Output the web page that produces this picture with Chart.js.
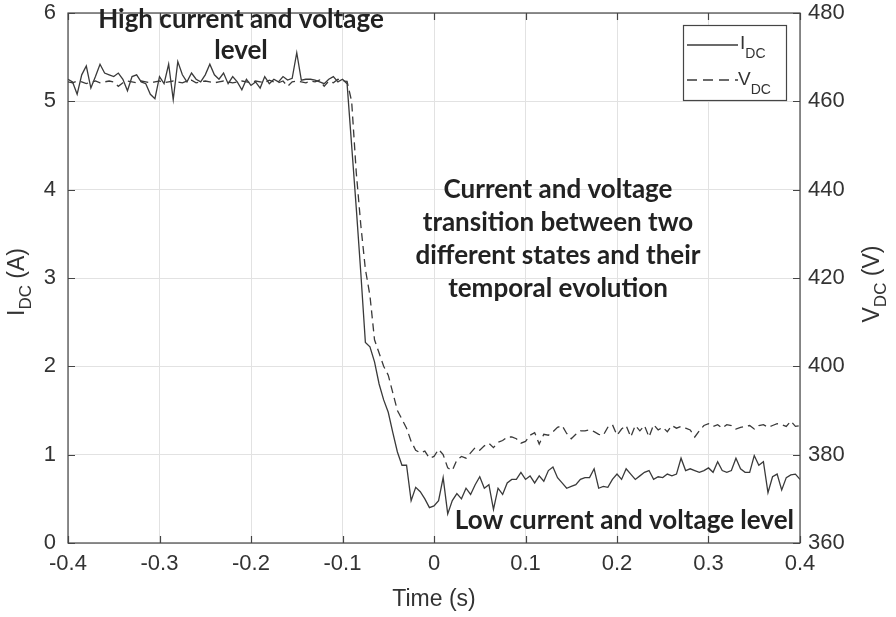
<!DOCTYPE html>
<html>
<head>
<meta charset="utf-8">
<script src="https://cdn.jsdelivr.net/npm/chart.js@4/dist/chart.umd.min.js"></script>
<style>
  html, body { margin: 0; padding: 0; background: #fff; }
  #wrap { width: 896px; height: 617px; position: relative; }
</style>
</head>
<body>
<div id="wrap"><canvas id="c"></canvas></div>
<script>
// sampling: 5 ms steps from -0.4 s to 0.4 s
const tStart = -0.4;
const tStep = 0.005;

// DC current (A)
const currentDC = [
  5.25, 5.22, 5.08, 5.30, 5.40, 5.15, 5.28, 5.42, 5.32, 5.30,
  5.28, 5.32, 5.25, 5.12, 5.28, 5.30, 5.22, 5.20, 5.08, 5.03,
  5.28, 5.20, 5.42, 5.02, 5.45, 5.30, 5.22, 5.32, 5.25, 5.22,
  5.30, 5.42, 5.30, 5.25, 5.32, 5.20, 5.28, 5.22, 5.13, 5.25,
  5.18, 5.22, 5.15, 5.28, 5.20, 5.25, 5.22, 5.28, 5.24, 5.26,
  5.55, 5.24, 5.25, 5.25, 5.24, 5.22, 5.20, 5.25, 5.28, 5.22,
  5.25, 5.20, 4.50, 3.80, 3.06, 2.27, 2.22, 2.05, 1.80, 1.62,
  1.48, 1.25, 1.03, 0.88, 0.88, 0.48, 0.63, 0.58, 0.50, 0.40,
  0.42, 0.48, 0.74, 0.33, 0.48, 0.56, 0.50, 0.62, 0.55, 0.66,
  0.75, 0.62, 0.66, 0.38, 0.62, 0.55, 0.68, 0.72, 0.72, 0.80,
  0.72, 0.76, 0.68, 0.76, 0.70, 0.82, 0.86, 0.74, 0.68, 0.62,
  0.64, 0.66, 0.72, 0.74, 0.74, 0.84, 0.62, 0.64, 0.63, 0.72,
  0.78, 0.72, 0.84, 0.78, 0.72, 0.76, 0.80, 0.82, 0.72, 0.75,
  0.74, 0.78, 0.76, 0.78, 0.96, 0.82, 0.84, 0.82, 0.80, 0.82,
  0.85, 0.80, 0.92, 0.82, 0.80, 0.82, 0.96, 0.84, 0.80, 0.80,
  0.99, 0.88, 0.92, 0.57, 0.75, 0.78, 0.60, 0.74, 0.77, 0.78,
  0.72
];

// DC voltage (V)
const voltageDC = [
  464.4, 464.2, 464.6, 464.4, 464.0, 464.4, 464.6, 464.2, 464.4, 464.6,
  464.4, 463.4, 464.2, 464.6, 464.4, 464.2, 464.6, 464.4, 464.2, 464.4,
  464.6, 464.2, 464.4, 464.6, 464.4, 464.2, 464.6, 464.8, 464.2, 464.4,
  464.6, 464.4, 464.2, 464.4, 464.6, 464.4, 464.2, 464.4, 464.6, 464.4,
  464.2, 464.6, 464.4, 464.2, 464.8, 464.4, 464.2, 464.6, 463.4, 464.4,
  464.6, 464.4, 464.2, 464.6, 464.4, 464.8, 463.4, 464.6, 464.2, 465.0,
  464.6, 464.5, 460.0, 444.0, 432.0, 422.0, 416.0, 406.0, 403.0, 400.0,
  398.0, 394.0, 390.0, 388.0, 386.0, 383.0, 381.0, 380.4, 380.8, 379.2,
  379.6, 381.2, 380.0, 377.0, 376.4, 378.8, 379.6, 379.2, 380.4, 381.6,
  381.0, 382.0, 382.6, 381.6, 382.8, 383.2, 384.0, 384.0, 383.6, 382.6,
  383.0, 384.4, 385.0, 382.4, 384.6, 384.4, 385.2, 386.2, 386.6, 384.8,
  383.6, 384.6, 385.4, 385.4, 385.6, 385.2, 384.6, 384.4, 386.2, 386.8,
  384.4, 385.8, 386.6, 384.0, 386.6, 385.4, 386.6, 384.0, 386.8, 385.6,
  386.2, 385.2, 386.6, 386.0, 386.4, 386.0, 385.6, 384.0, 385.4, 386.6,
  387.0, 386.4, 386.8, 386.0, 386.8, 386.6, 385.8, 386.2, 386.4, 386.6,
  385.8, 386.6, 386.8, 386.2, 386.6, 387.0, 386.8, 386.4, 387.6, 386.4,
  386.6
];

const timeTicks = [-0.4, -0.3, -0.2, -0.1, 0, 0.1, 0.2, 0.3, 0.4];
const currentTicks = [0, 1, 2, 3, 4, 5, 6];
const voltageTicks = [360, 380, 400, 420, 440, 460, 480];

const noteHigh = ['High current and voltage', 'level'];
const noteMid = ['Current and voltage', 'transition between two', 'different states and their', 'temporal evolution'];
const noteLow = ['Low current and voltage level'];

const time = currentDC.map((_, i) => Math.round((tStart + i * tStep) * 1000) / 1000);
const toPoints = (vals) => vals.map((v, i) => ({ x: time[i], y: v }));

const INK = '#3a3a3a';
const AXIS = '#454545';
const TICKFONT = { family: 'Liberation Sans', size: 22 };

// width of a label made of normal + subscript pieces
function partsWidth(ctx, parts, big, small) {
  let w = 0;
  parts.forEach(p => {
    ctx.font = (p.sub ? small : big) + 'px "Liberation Sans"';
    w += ctx.measureText(p.t).width;
  });
  return w;
}
function drawParts(ctx, parts, x, y, big, small, drop) {
  let cx = x;
  parts.forEach(p => {
    ctx.font = (p.sub ? small : big) + 'px "Liberation Sans"';
    ctx.fillText(p.t, cx, p.sub ? y + drop : y);
    cx += ctx.measureText(p.t).width;
  });
}

// keep the y axes from pushing the plot down
function fixY(width) {
  return (s) => {
    s.width = width;
    s.paddingTop = 0;
    s.paddingBottom = 0;
  };
}

const decor = {
  id: 'decor',
  afterDatasetsDraw(chart) {
    const ctx = chart.ctx;
    const a = chart.chartArea;
    const sx = chart.scales.x, sy = chart.scales.y, sy2 = chart.scales.y2;
    ctx.save();

    // box + inward ticks
    ctx.strokeStyle = AXIS;
    ctx.lineWidth = 1.2;
    ctx.strokeRect(a.left, a.top, a.right - a.left, a.bottom - a.top);
    ctx.beginPath();
    const tl = 7;
    timeTicks.forEach(t => {
      const px = Math.round(sx.getPixelForValue(t)) + 0.5;
      ctx.moveTo(px, a.bottom); ctx.lineTo(px, a.bottom - tl);
      ctx.moveTo(px, a.top); ctx.lineTo(px, a.top + tl);
    });
    currentTicks.forEach(v => {
      const py = Math.round(sy.getPixelForValue(v)) + 0.5;
      ctx.moveTo(a.left, py); ctx.lineTo(a.left + tl, py);
    });
    voltageTicks.forEach(v => {
      const py = Math.round(sy2.getPixelForValue(v)) + 0.5;
      ctx.moveTo(a.right, py); ctx.lineTo(a.right - tl, py);
    });
    ctx.stroke();

    // axis titles
    ctx.fillStyle = '#333';
    ctx.textAlign = 'left';
    ctx.textBaseline = 'alphabetic';
    ctx.font = '23px "Liberation Sans"';
    ctx.fillText('Time (s)', (a.left + a.right) / 2 - ctx.measureText('Time (s)').width / 2, 606);

    const leftParts = [{ t: 'I' }, { t: 'DC', sub: true }, { t: ' (A)' }];
    const rightParts = [{ t: 'V' }, { t: 'DC', sub: true }, { t: ' (V)' }];
    const midY = (a.top + a.bottom) / 2 + 4;

    let w = partsWidth(ctx, leftParts, 23, 17);
    ctx.save();
    ctx.translate(24, midY);
    ctx.rotate(-Math.PI / 2);
    drawParts(ctx, leftParts, -w / 2, 0, 23, 17, 7);
    ctx.restore();

    w = partsWidth(ctx, rightParts, 23, 17);
    ctx.save();
    ctx.translate(879, midY + 2);
    ctx.rotate(-Math.PI / 2);
    drawParts(ctx, rightParts, -w / 2, 0, 23, 17, 7);
    ctx.restore();

    // legend
    const lx = 683, ly = 25, lw = 103, lh = 75;
    ctx.fillStyle = '#fff';
    ctx.fillRect(lx, ly, lw, lh);
    ctx.strokeStyle = AXIS;
    ctx.lineWidth = 1.2;
    ctx.strokeRect(lx + 0.5, ly + 0.5, lw, lh);
    ctx.strokeStyle = INK;
    ctx.lineWidth = 1.3;
    ctx.beginPath();
    ctx.moveTo(687, 45); ctx.lineTo(738, 45);
    ctx.stroke();
    ctx.setLineDash([10, 6]);
    ctx.beginPath();
    ctx.moveTo(687, 80); ctx.lineTo(738, 80);
    ctx.stroke();
    ctx.setLineDash([]);
    ctx.fillStyle = '#333';
    drawParts(ctx, [{ t: 'I' }, { t: 'DC', sub: true }], 740, 49, 19, 14, 9);
    drawParts(ctx, [{ t: 'V' }, { t: 'DC', sub: true }], 738, 85, 19, 14, 9);

    // notes
    ctx.fillStyle = '#222';
    ctx.textAlign = 'center';
    ctx.textBaseline = 'middle';
    ctx.font = 'bold 26px Lato';
    noteHigh.forEach((s, i) => ctx.fillText(s, 241, 20 + i * 31));
    noteMid.forEach((s, i) => ctx.fillText(s, 558, 190 + i * 33));
    ctx.textAlign = 'right';
    noteLow.forEach(s => ctx.fillText(s, 794, 521));

    ctx.restore();
  }
};

new Chart(document.getElementById('c'), {
  type: 'line',
  data: {
    datasets: [
      {
        label: 'IDC',
        data: toPoints(currentDC),
        yAxisID: 'y',
        borderColor: INK,
        borderWidth: 1.3,
        pointRadius: 0,
        tension: 0
      },
      {
        label: 'VDC',
        data: toPoints(voltageDC),
        yAxisID: 'y2',
        borderColor: INK,
        borderWidth: 1.3,
        borderDash: [8, 5],
        pointRadius: 0,
        tension: 0
      }
    ]
  },
  options: {
    responsive: true,
    maintainAspectRatio: false,
    animation: false,
    layout: { padding: { top: 13, left: 0, right: 0, bottom: 0 } },
    plugins: {
      legend: { display: false },
      tooltip: { enabled: false }
    },
    scales: {
      x: {
        type: 'linear',
        min: -0.4,
        max: 0.4,
        afterBuildTicks: (s) => { s.ticks = timeTicks.map(v => ({ value: v })); },
        afterFit: (s) => { s.height = 74; s.paddingLeft = 0; s.paddingRight = 0; },
        ticks: {
          color: '#333',
          font: TICKFONT,
          padding: 8,
          maxRotation: 0,
          callback: (v) => String(Math.round(v * 10) / 10)
        },
        grid: { color: '#e2e2e2', drawTicks: false },
        border: { display: false }
      },
      y: {
        position: 'left',
        min: 0,
        max: 6,
        afterBuildTicks: (s) => { s.ticks = currentTicks.map(v => ({ value: v })); },
        afterFit: fixY(68),
        ticks: { color: '#333', font: TICKFONT, padding: 12 },
        grid: { color: '#e2e2e2', drawTicks: false },
        border: { display: false }
      },
      y2: {
        position: 'right',
        min: 360,
        max: 480,
        afterBuildTicks: (s) => { s.ticks = voltageTicks.map(v => ({ value: v })); },
        afterFit: fixY(96),
        ticks: { color: '#333', font: TICKFONT, padding: 8 },
        grid: { drawOnChartArea: false, drawTicks: false },
        border: { display: false }
      }
    }
  },
  plugins: [decor]
});
</script>
</body>
</html>
